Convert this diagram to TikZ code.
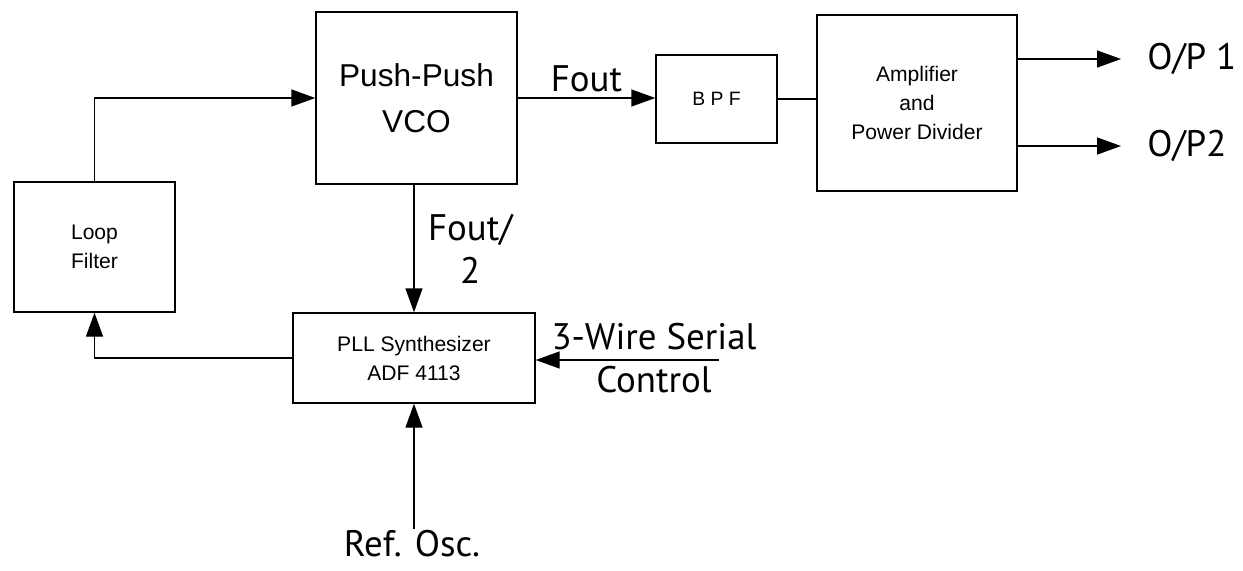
\documentclass[tikz,border=0pt]{standalone}
\usepackage{fontspec}
\setmainfont{Liberation Sans}
\newfontfamily\labelfont{PT Sans}
\usetikzlibrary{arrows.meta,positioning,calc}

\begin{document}
\begin{tikzpicture}[
    block/.style={draw, thick, align=center, font=\fontsize{12}{16.5}\selectfont},
    arrow/.style={-{Triangle[length=0.48cm, width=0.34cm]}, thick},
    tag/.style={align=center, font=\labelfont\fontsize{21}{24.5}\selectfont}
]
    \useasboundingbox (0,0) rectangle (24.86,-11.4);

    \node[block, minimum width=4.02cm, minimum height=3.44cm, font=\fontsize{18}{26}\selectfont] (vco) at (8.33,-1.96) {Push-Push\\VCO};
    \node[block, minimum width=2.42cm, minimum height=1.76cm, font=\fontsize{11}{13}\selectfont] (bpf) at (14.33,-1.98) {B P F};
    \node[block, minimum width=4.0cm, minimum height=3.52cm] (amp) at (18.34,-2.06) {Amplifier\\and\\Power Divider};
    \node[block, minimum width=3.22cm, minimum height=2.6cm] (loop) at (1.89,-4.94) {Loop\\Filter};
    \node[block, minimum width=4.84cm, minimum height=1.8cm] (pll) at (8.28,-7.16) {PLL Synthesizer\\ADF 4113};

    % outputs and inputs
    \node[tag, anchor=west, inner sep=0pt] (op1) at (22.94,-1.18) {O/P 1};
    \node[tag, anchor=west, inner sep=0pt] (op2) at (22.94,-2.92) {O/P2};
    \node[tag] (ctrl) at (13.08,-7.16) {3-Wire Serial\\Control};
    \node[tag, inner sep=1pt] (ref) at (8.24,-10.88) {Ref. Osc.};
    \coordinate (wire) at (14.38,-7.2);

    % forward path
    \draw[arrow] (loop.north) |- (vco.west);
    \draw[arrow] (vco.east) -- node[tag, above] (fout) {Fout} (vco.east -| bpf.west);
    \draw[thick] (bpf.east) -- (bpf.east -| amp.west);
    \draw[arrow, shorten >=0.52cm] (op1 -| amp.east) -- (op1.west);
    \draw[arrow, shorten >=0.52cm] (op2 -| amp.east) -- (op2.west);

    % feedback path
    \draw[arrow] (vco.south -| pll.north) -- node[tag, right=0.15cm] (half) {Fout/\\2} (pll.north);
    \draw[arrow] (pll.west) -| (loop.south);
    \draw[arrow] (wire) -- (wire -| pll.east);
    \draw[arrow] (ref.north -| pll.south) -- (pll.south);
\end{tikzpicture}
\end{document}
